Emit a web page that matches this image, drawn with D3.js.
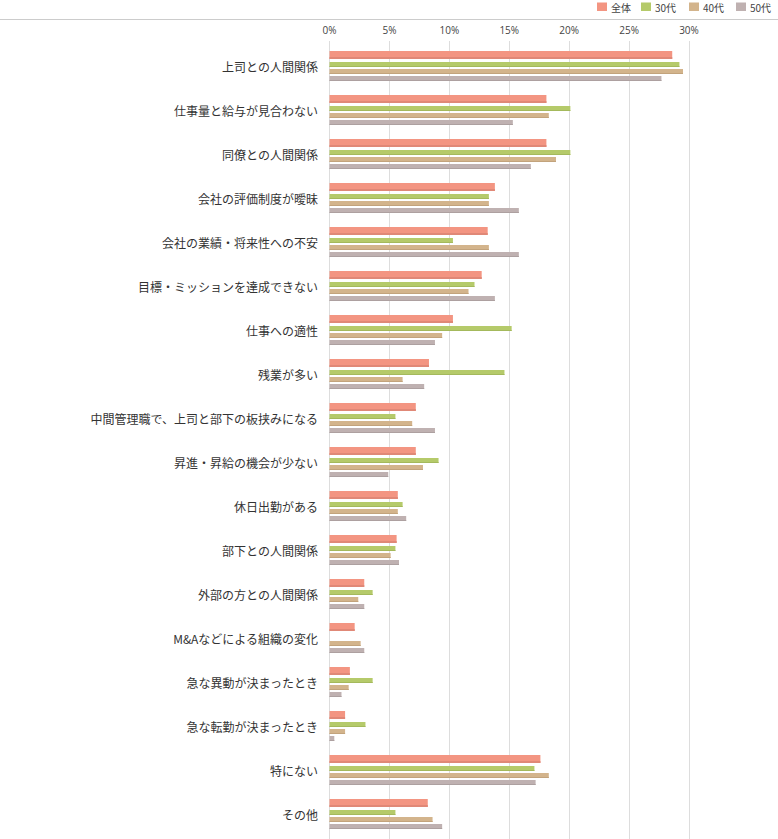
<!DOCTYPE html>
<html><head><meta charset="utf-8">
<script src="https://cdn.jsdelivr.net/npm/d3@7"></script>
<style>
html,body{margin:0;padding:0;background:#fff;}
svg{display:block;font-family:"Noto Sans CJK JP","Noto Sans",sans-serif;}
</style></head>
<body>
<script>
const categories = ["上司との人間関係","仕事量と給与が見合わない","同僚との人間関係","会社の評価制度が曖昧","会社の業績・将来性への不安","目標・ミッションを達成できない","仕事への適性","残業が多い","中間管理職で、上司と部下の板挟みになる","昇進・昇給の機会が少ない","休日出勤がある","部下との人間関係","外部の方との人間関係","M&Aなどによる組織の変化","急な異動が決まったとき","急な転勤が決まったとき","特にない","その他"];
const seriesNames = ["全体","30代","40代","50代"];
const all  = [28.6,18.1,18.1,13.8,13.2,12.7,10.3,8.3,7.2,7.2,5.7,5.6,2.9,2.1,1.7,1.3,17.6,8.2];
const s30  = [29.2,20.1,20.1,13.3,10.3,12.1,15.2,14.6,5.5,9.1,6.1,5.5,3.6,0,3.6,3.0,17.1,5.5];
const s40  = [29.5,18.3,18.9,13.3,13.3,11.6,9.4,6.1,6.9,7.8,5.7,5.1,2.4,2.6,1.6,1.3,18.3,8.6];
const s50  = [27.7,15.3,16.8,15.8,15.8,13.8,8.8,7.9,8.8,4.9,6.4,5.8,2.9,2.9,1.0,0.4,17.2,9.4];
const tickValues = [0,5,10,15,20,25,30];
const seriesValues = [all,s30,s40,s50];

const colors = ["#f39582","#b5ca6a","#d3b48c","#bfb1b1"];
const shades = ["#e08877","#a4b95c","#c2a37c","#ada0a0"];
const offsets = [0,11,18,25];
const heights = [8,5,5,5];

const W=778,H=839;
const svg=d3.select("body").append("svg").attr("width",W).attr("height",H);

svg.append("line").attr("x1",0).attr("x2",W).attr("y1",19.5).attr("y2",19.5)
  .attr("stroke","#cccccc").attr("stroke-width",1);

const x=d3.scaleLinear().domain([0,30]).range([329,688.5]);
const y=d3.scaleBand().domain(categories).range([51,51+44*categories.length]).paddingInner(0).paddingOuter(0);

// gridlines
svg.append("g").selectAll("line").data(tickValues).join("line")
  .attr("x1",d=>Math.round(x(d))+0.5).attr("x2",d=>Math.round(x(d))+0.5)
  .attr("y1",41).attr("y2",H).attr("stroke","#dddddd").attr("stroke-width",1);

// tick labels
const xAxis=d3.axisTop(x).tickValues(tickValues).tickFormat(d=>d+"%").tickSize(0);
const gx=svg.append("g").attr("transform","translate(0,37)").call(xAxis);
gx.select(".domain").remove();
gx.selectAll("text").attr("font-size",10).attr("fill","#444").attr("dy",0)
  .attr("font-family","'Open Sans','Noto Sans',sans-serif");

// bars
seriesValues.forEach((vals,si)=>{
  const g=svg.append("g");
  categories.forEach((c,i)=>{
    const v=vals[i];
    if(v<=0) return;
    const y0=y(c)+offsets[si];
    const w=x(v)-x(0);
    g.append("rect").attr("x",x(0)+0.5).attr("y",y0).attr("width",w).attr("height",heights[si]).attr("fill",colors[si]);
    const sh = si===0?2:1;
    g.append("rect").attr("x",x(0)+0.5).attr("y",y0+heights[si]-sh).attr("width",w).attr("height",sh).attr("fill",shades[si]);
  });
});

// category labels
svg.append("g").selectAll("text").data(categories).join("text")
  .attr("x",318).attr("y",d=>y(d)+17).attr("dy","0.35em")
  .attr("text-anchor","end").attr("font-size",12).attr("fill","#333")
  .text(d=>d);

// legend
const legX=[597,641,689,736];
seriesNames.forEach((n,i)=>{
  svg.append("rect").attr("x",legX[i]).attr("y",2.5).attr("width",10).attr("height",8.5).attr("fill",colors[i]);
  svg.append("text").attr("x",legX[i]+14).attr("y",12).attr("font-size",10).attr("fill","#444").text(n);
});
</script>
</body></html>
